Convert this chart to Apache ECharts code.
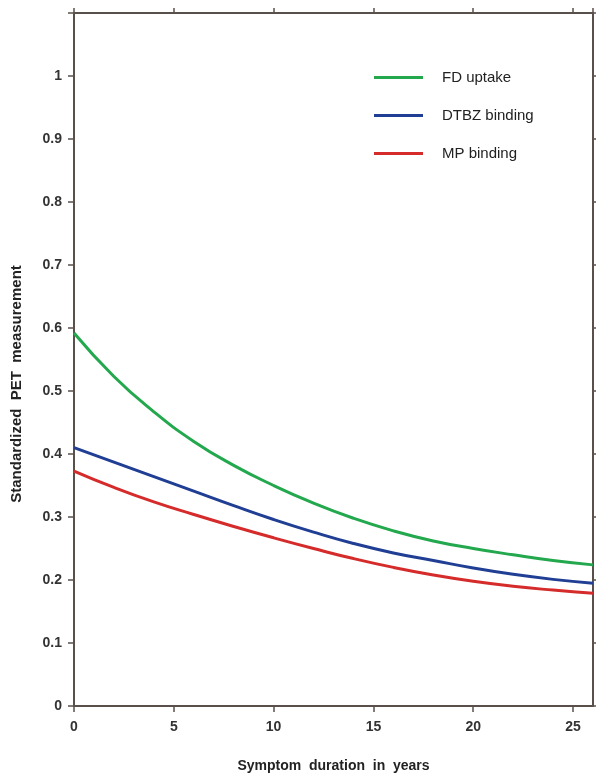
<!DOCTYPE html>
<html>
<head>
<meta charset="utf-8">
<script src="https://cdn.jsdelivr.net/npm/echarts@6/dist/echarts.min.js"></script>
<style>
  html, body { margin: 0; padding: 0; background: #fff; }
  #chart { width: 596px; height: 775px; }
</style>
</head>
<body>
<div id="chart"></div>
<script>
// symptom duration (years)
const years = [0, 2, 4, 6, 8, 10, 12, 14, 16, 18, 20, 22, 24, 26];
const fdUptake    = [0.592, 0.523, 0.467, 0.420, 0.382, 0.350, 0.322, 0.298, 0.278, 0.262, 0.250, 0.240, 0.231, 0.224];
const dtbzBinding = [0.410, 0.387, 0.364, 0.341, 0.318, 0.296, 0.276, 0.258, 0.243, 0.231, 0.219, 0.209, 0.201, 0.195];
const mpBinding   = [0.373, 0.347, 0.324, 0.304, 0.285, 0.267, 0.250, 0.234, 0.220, 0.208, 0.198, 0.190, 0.184, 0.179];
const seriesNames = ['FD uptake', 'DTBZ binding', 'MP binding'];
const seriesColors = ['#23a84e', '#203f94', '#d52b2b'];

const axisColor = '#5a504b';
const fontFam = 'Liberation Sans, Arial, sans-serif';
const labelFont = { color: '#333', fontSize: 14, fontWeight: 'bold', fontFamily: fontFam };

const pairs = arr => years.map((x, i) => [x, arr[i]]);

var chart = echarts.init(document.getElementById('chart'));

var series = [fdUptake, dtbzBinding, mpBinding].map((arr, i) => ({
  name: seriesNames[i],
  type: 'line',
  smooth: true,
  showSymbol: false,
  data: pairs(arr),
  lineStyle: { color: seriesColors[i], width: 3 },
  itemStyle: { color: seriesColors[i] }
}));

var option = {
  animation: false,
  backgroundColor: '#fff',
  grid: { left: 74, right: 3, top: 13, bottom: 69, containLabel: false, outerBoundsMode: 'none' },
  legend: {
    orient: 'vertical',
    left: 374,
    top: 70,
    padding: 0,
    itemWidth: 49,
    itemHeight: 3,
    itemGap: 23,
    icon: 'rect',
    data: seriesNames,
    textStyle: { color: '#222', fontSize: 15, fontFamily: fontFam, padding: [0, 0, 0, 14] }
  },
  xAxis: [{
    type: 'value',
    min: 0, max: 26, interval: 5,
    name: 'Symptom  duration  in  years',
    nameLocation: 'middle',
    nameGap: 53,
    nameTextStyle: { color: '#222', fontSize: 14, fontWeight: 'bold', fontFamily: fontFam },
    axisLine: { onZero: false, lineStyle: { color: axisColor, width: 2 } },
    axisTick: { length: 6, lineStyle: { color: axisColor, width: 1.5 } },
    axisLabel: Object.assign({ margin: 14, showMaxLabel: false,
      formatter: v => (v % 5 === 0 ? String(v) : '') }, labelFont),
    splitLine: { show: false }
  }, {
    type: 'value',
    position: 'top',
    min: 0, max: 26, interval: 5,
    axisLine: { show: true, onZero: false, lineStyle: { color: axisColor, width: 2 } },
    axisTick: { show: true, length: 5, lineStyle: { color: axisColor, width: 1.5 } },
    axisLabel: { show: false },
    splitLine: { show: false }
  }],
  yAxis: [{
    type: 'value',
    min: 0, max: 1.1, interval: 0.1,
    axisLine: { show: true, onZero: false, lineStyle: { color: axisColor, width: 2 } },
    axisTick: { show: true, length: 6, lineStyle: { color: axisColor, width: 1.5 } },
    axisLabel: Object.assign({ margin: 12,
      formatter: v => (v > 1.05 ? '' : String(Math.round(v * 10) / 10)) }, labelFont),
    splitLine: { show: false }
  }, {
    type: 'value',
    position: 'right',
    min: 0, max: 1.1, interval: 0.1,
    axisLine: { show: true, onZero: false, lineStyle: { color: axisColor, width: 2 } },
    axisTick: { show: true, length: 5, lineStyle: { color: axisColor, width: 1.5 } },
    axisLabel: { show: false },
    splitLine: { show: false }
  }],
  graphic: [{
    type: 'text',
    x: 17,
    y: 384,
    rotation: Math.PI / 2,
    style: {
      text: 'Standardized  PET  measurement',
      fill: '#222',
      font: 'bold 15px "Liberation Sans", Arial, sans-serif',
      align: 'center',
      verticalAlign: 'middle'
    }
  }],
  series: series
};
chart.setOption(option);
</script>
</body>
</html>
